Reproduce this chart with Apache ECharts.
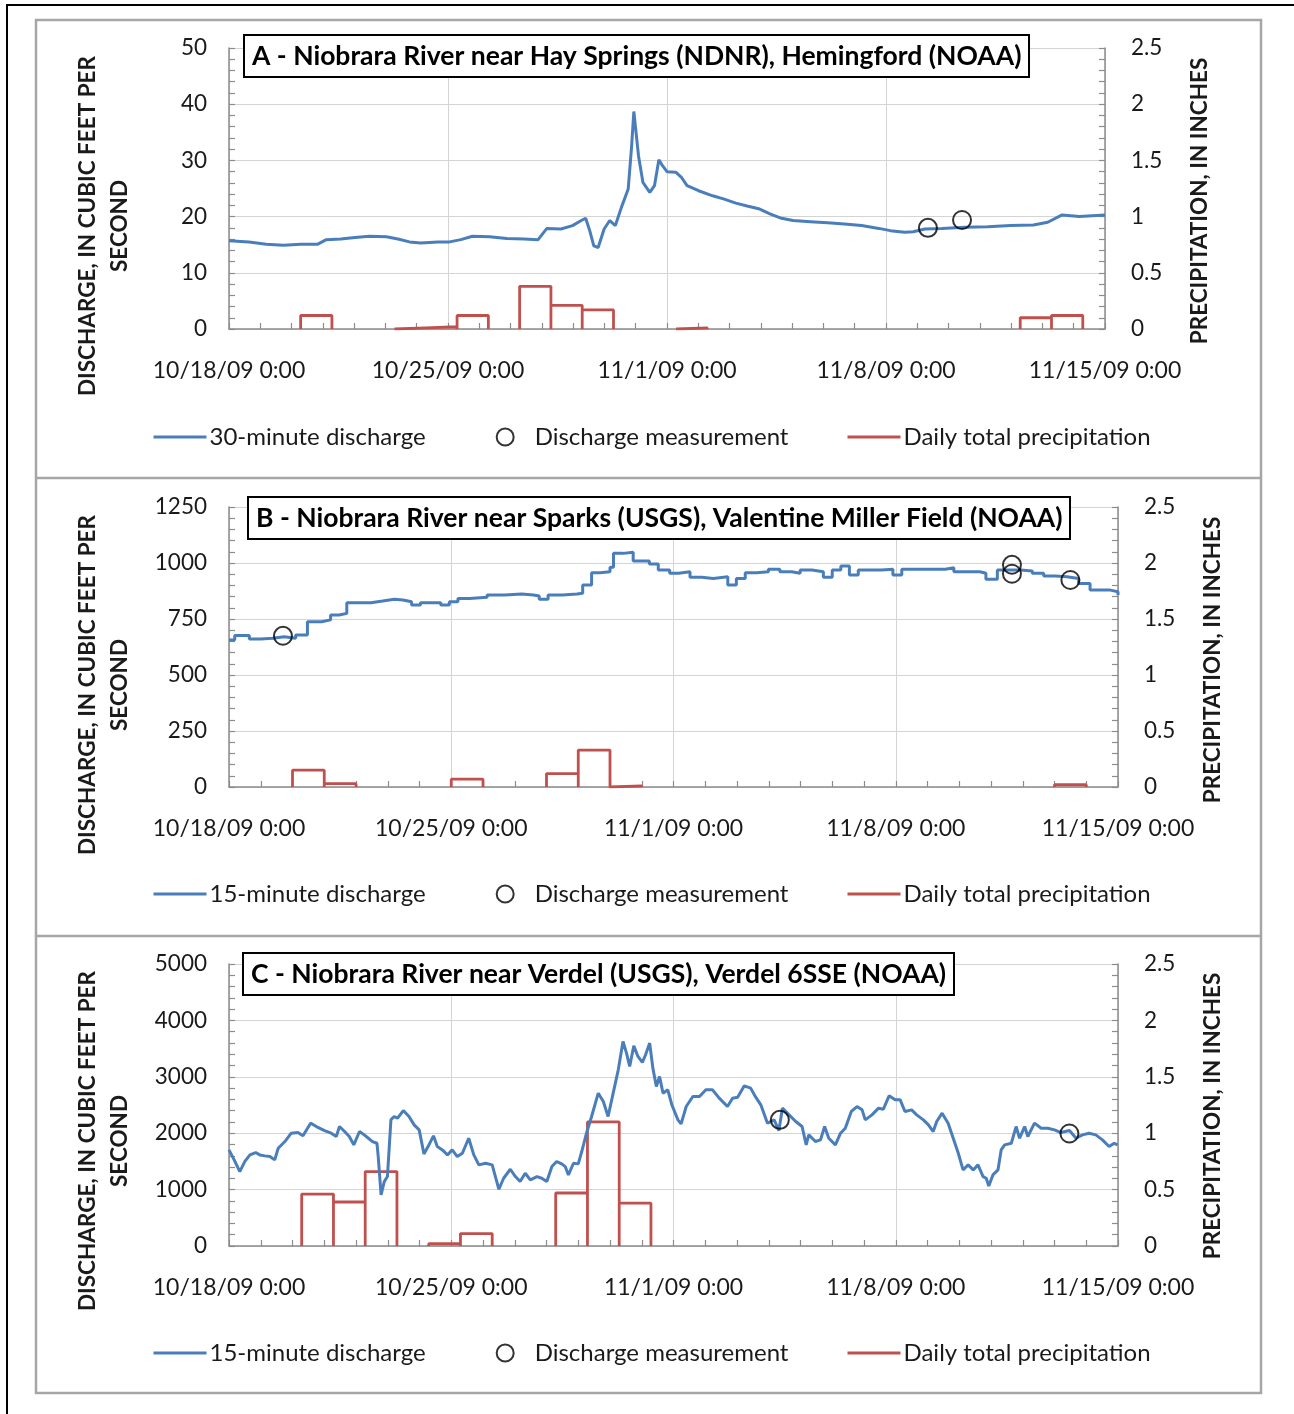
<!DOCTYPE html>
<html><head><meta charset="utf-8">
<script src="https://cdn.jsdelivr.net/npm/echarts@6/dist/echarts.min.js"></script>
<style>html,body{margin:0;padding:0;background:#fff}#c{width:1294px;height:1414px}</style>
</head><body><div id="c"></div>
<script>
// ---------- DATA ----------
const xTickLabels = ['10/18/09 0:00', '10/25/09 0:00', '11/1/09 0:00', '11/8/09 0:00', '11/15/09 0:00'];
const panelTitles = [
  'A - Niobrara River near Hay Springs (NDNR), Hemingford (NOAA)',
  'B - Niobrara River near Sparks (USGS), Valentine Miller Field (NOAA)',
  'C - Niobrara River near Verdel (USGS), Verdel 6SSE (NOAA)'
];
const dischargeNames = ['30-minute discharge', '15-minute discharge', '15-minute discharge'];
const measName = 'Discharge measurement';
const precipName = 'Daily total precipitation';
const leftMax = [50, 1250, 5000];
const leftInterval = [10, 250, 1000];

// discharge: [day since 10/18/09 0:00, cubic feet per second]
const dischargeA = [[0,15.7],[0.64,15.5],[1.19,15.1],[1.74,14.9],[2.29,15.1],[2.84,15.1],[3.11,15.9],[3.57,16.0],[4.03,16.3],[4.48,16.5],[5.03,16.4],[5.40,16.0],[5.77,15.5],[6.13,15.3],[6.68,15.5],[7.05,15.5],[7.41,15.9],[7.78,16.5],[8.33,16.4],[8.88,16.1],[9.43,16.0],[9.88,15.9],[10.16,17.9],[10.61,17.8],[10.98,18.4],[11.26,19.3],[11.40,19.7],[11.53,17.5],[11.66,14.8],[11.80,14.5],[11.99,17.8],[12.17,19.3],[12.35,18.4],[12.54,21.6],[12.76,24.9],[12.87,32.6],[12.94,38.7],[13.09,30.8],[13.23,26.1],[13.45,24.3],[13.60,25.5],[13.74,30.1],[13.85,29.1],[14.00,28.0],[14.28,27.9],[14.46,27.0],[14.64,25.5],[15.01,24.6],[15.46,23.7],[15.83,23.1],[16.20,22.4],[16.56,21.9],[16.93,21.4],[17.29,20.5],[17.66,19.7],[18.03,19.3],[18.58,19.1],[19.13,18.9],[19.67,18.7],[20.22,18.4],[20.77,17.9],[21.14,17.5],[21.60,17.2],[21.87,17.3],[22.24,17.8],[22.79,17.9],[23.52,18.1],[24.25,18.2],[24.98,18.4],[25.71,18.5],[26.17,19.0],[26.63,20.3],[27.18,20.0],[27.73,20.2],[28.0,20.3]];
const dischargeB = [[0,656],[0.18,676],[0.46,676],[0.64,661],[1.00,664],[1.37,671],[1.74,664],[2.10,679],[2.47,738],[2.92,746],[3.20,768],[3.47,775],[3.71,823],[4.11,823],[4.47,830],[4.84,838],[5.21,835],[5.48,827],[5.75,812],[6.03,823],[6.39,823],[6.67,812],[6.94,827],[7.21,842],[7.58,847],[8.13,857],[8.68,862],[9.22,857],[9.59,853],[9.77,838],[10.05,857],[10.50,862],[10.96,865],[11.14,902],[11.42,957],[11.69,961],[12.00,981],[12.11,1043],[12.42,1048],[12.73,1009],[13.24,995],[13.52,969],[13.88,954],[14.16,961],[14.52,936],[14.89,931],[15.25,939],[15.71,902],[15.98,931],[16.26,957],[16.62,961],[16.99,972],[17.35,961],[17.72,954],[17.99,969],[18.36,961],[18.72,936],[19.00,969],[19.27,987],[19.54,946],[19.82,969],[20.18,969],[20.55,972],[20.91,946],[21.19,972],[21.64,972],[22.10,972],[22.56,979],[22.83,961],[23.29,961],[23.65,954],[23.84,927],[24.20,969],[24.57,969],[24.93,964],[25.30,954],[25.66,942],[26.03,939],[26.39,931],[26.76,909],[27.12,879],[27.48,879],[27.76,872],[28.0,857]];
const dischargeC = [[0.00,1704],[0.19,1497],[0.34,1320],[0.50,1500],[0.66,1615],[0.84,1657],[0.97,1615],[1.13,1598],[1.29,1586],[1.44,1527],[1.55,1734],[1.76,1852],[1.96,2000],[2.17,2012],[2.33,1953],[2.57,2178],[2.75,2118],[3.01,2047],[3.22,2000],[3.38,1941],[3.48,2118],[3.64,2030],[3.79,1941],[3.93,1793],[4.11,2030],[4.26,1970],[4.39,1911],[4.52,1852],[4.66,1822],[4.70,1586],[4.79,905],[4.89,1142],[4.99,1231],[5.10,2237],[5.20,2296],[5.31,2266],[5.49,2402],[5.67,2296],[5.83,2148],[5.99,2059],[6.14,1633],[6.27,1763],[6.44,1953],[6.56,1763],[6.72,1704],[6.88,1615],[7.03,1704],[7.19,1586],[7.35,1645],[7.55,1911],[7.71,1615],[7.87,1438],[8.08,1467],[8.29,1438],[8.39,1231],[8.50,1006],[8.65,1201],[8.86,1361],[9.02,1231],[9.17,1142],[9.33,1290],[9.49,1172],[9.70,1231],[9.85,1201],[10.01,1142],[10.17,1408],[10.32,1497],[10.48,1456],[10.59,1408],[10.69,1260],[10.85,1467],[11.00,1456],[11.11,1675],[11.26,2000],[11.42,2296],[11.63,2710],[11.79,2562],[11.94,2296],[12.10,2710],[12.26,3124],[12.41,3627],[12.52,3420],[12.62,3183],[12.75,3550],[12.88,3361],[13.02,3254],[13.12,3391],[13.25,3598],[13.35,3154],[13.46,2828],[13.56,3006],[13.67,2710],[13.82,2769],[13.95,2500],[14.14,2237],[14.24,2166],[14.40,2473],[14.61,2651],[14.82,2651],[15.02,2769],[15.23,2769],[15.44,2621],[15.70,2473],[15.86,2621],[16.02,2639],[16.23,2840],[16.43,2799],[16.59,2639],[16.75,2503],[16.96,2178],[17.17,2237],[17.32,2047],[17.43,2444],[17.64,2325],[17.85,2207],[18.05,2118],[18.18,1793],[18.26,1970],[18.47,1852],[18.63,1882],[18.76,2118],[18.89,1911],[19.10,1793],[19.26,2000],[19.41,2089],[19.60,2385],[19.78,2473],[19.94,2414],[20.04,2237],[20.25,2325],[20.46,2444],[20.61,2426],[20.79,2663],[20.98,2592],[21.14,2592],[21.29,2385],[21.50,2414],[21.66,2325],[21.87,2237],[22.03,2148],[22.18,2030],[22.29,2207],[22.46,2355],[22.65,2178],[22.81,1911],[22.97,1645],[23.12,1349],[23.28,1438],[23.44,1349],[23.59,1438],[23.75,1231],[23.85,1201],[23.93,1065],[24.06,1260],[24.22,1349],[24.32,1704],[24.43,1793],[24.64,1822],[24.79,2118],[24.90,1911],[25.06,2118],[25.16,1941],[25.37,2178],[25.58,2089],[25.79,2089],[26.00,2059],[26.20,2012],[26.47,2047],[26.68,1911],[26.88,1970],[27.09,2000],[27.30,1970],[27.51,1882],[27.72,1763],[27.88,1822],[27.98,1793]];

// discharge measurements: [day, cfs]
const measA = [[22.34,18.0],[23.43,19.4]];
const measB = [[1.70,675],[24.66,992],[24.66,952],[26.50,924]];
const measC = [[17.35,2237],[26.47,1995]];

// daily total precipitation: [observation period start day, inches] (each period lasts one day)
const precipA = [[2.29,0.12],[5.29,0.01],[6.29,0.02],[7.29,0.12],[9.29,0.38],[10.29,0.21],[11.29,0.17],[14.29,0.01],[25.29,0.10],[26.29,0.12]];
const precipB = [[2,0.15],[3,0.03],[7,0.07],[10,0.12],[11,0.33],[12,0.01],[26,0.02]];
const precipC = [[2.29,0.46],[3.29,0.39],[4.29,0.66],[6.29,0.02],[7.29,0.11],[10.29,0.47],[11.29,1.10],[12.29,0.38]];

// ---------- CHART ----------
const FONT = 'Lato';
const BLUE = '#4a7ebb', RED = '#c0504d', AXIS = '#8c8c8c', GRID = '#d4d4d4', TXT = '#1a1a1a';
const grids = [
  {left: 229, top: 48, width: 876, height: 281},
  {left: 229, top: 507, width: 889, height: 280},
  {left: 229, top: 964, width: 889, height: 282}
];
const titlePos = [{left: 244, top: 35}, {left: 248, top: 497}, {left: 243, top: 953}];
const legendTop = [425, 882, 1341];
const leftTitlePos = [[104, 226], [104, 685], [104, 1141]];
const rightTitlePos = [[1200, 201], [1213, 660], [1213, 1116]];

function precipPath(arr) {
  const out = [];
  arr.forEach((p, i) => {
    const s = p[0], v = p[1];
    out.push([s, 0], [s, v], [s + 1, v], [s + 1, 0]);
    const next = arr[i + 1];
    if (next && Math.abs(next[0] - (s + 1)) > 0.01) out.push([s + 1, '-']);
  });
  return out;
}

const discharges = [dischargeA, dischargeB, dischargeC];
const meas = [measA, measB, measC];
const precips = [precipA, precipB, precipC];

const tickCommon = (split) => ({
  axisLine: {show: true, lineStyle: {color: AXIS, width: 1.5}},
  axisTick: {show: true, inside: true, length: 6, lineStyle: {color: AXIS, width: 1.2}},
  minorTick: {show: true, splitNumber: split, length: 6, lineStyle: {color: AXIS, width: 1.2}},
  minorSplitLine: {show: false}
});

const legendBase = {
  padding: 0, itemWidth: 53, itemHeight: 17,
  textStyle: {fontFamily: FONT, fontSize: 24, color: TXT, padding: [0, 0, 0, -2]},
  lineStyle: {width: 3}, selectedMode: false
};

const option = {
  animation: false,
  backgroundColor: '#fff',
  textStyle: {fontFamily: FONT},
  grid: grids,
  title: panelTitles.map((t, i) => ({
    text: t, left: titlePos[i].left, top: titlePos[i].top, padding: [6, 8],
    borderColor: '#000', borderWidth: 2, backgroundColor: '#fff', z: 10,
    textStyle: {fontFamily: FONT, fontWeight: 'bold', fontSize: 26.5, color: '#000', lineHeight: 30}
  })),
  legend: [].concat(...[0, 1, 2].map(i => [
    Object.assign({}, legendBase, {
      left: 152, top: legendTop[i], itemGap: 70,
      data: [
        {name: dischargeNames[i], itemStyle: {opacity: 0}},
        {name: measName, icon: 'circle', itemStyle: {color: '#fff', borderColor: '#000', borderWidth: 2}}
      ]
    }),
    Object.assign({}, legendBase, {
      left: 846, top: legendTop[i],
      data: [{name: precipName, itemStyle: {opacity: 0}}]
    })
  ])),
  xAxis: [0, 1, 2].map(i => Object.assign({
    type: 'value', gridIndex: i, min: 0, max: 28, interval: 7,
    axisLabel: {formatter: v => xTickLabels[Math.round(v / 7)], margin: 30, fontSize: 23, color: TXT, fontFamily: FONT},
    splitLine: {show: true, lineStyle: {color: GRID, width: 1}}
  }, tickCommon(7))),
  yAxis: [].concat(...[0, 1, 2].map(i => [
    Object.assign({
      type: 'value', gridIndex: i, position: 'left', min: 0, max: leftMax[i], interval: leftInterval[i],
      axisLabel: {margin: 22, fontSize: 22.5, color: TXT, fontFamily: FONT, formatter: v => String(v)},
      splitLine: {show: true, lineStyle: {color: GRID, width: 1}}
    }, tickCommon(5)),
    Object.assign({
      type: 'value', gridIndex: i, position: 'right', min: 0, max: 2.5, interval: 0.5,
      axisLabel: {margin: 26, fontSize: 22.5, color: TXT, fontFamily: FONT, formatter: v => String(v)},
      splitLine: {show: false}
    }, tickCommon(5))
  ])),
  series: [].concat(...[0, 1, 2].map(i => [
    {
      type: 'line', name: precipName, xAxisIndex: i, yAxisIndex: 2 * i + 1,
      data: precipPath(precips[i]), symbol: 'none', connectNulls: false,
      lineStyle: {color: RED, width: 2.8}, itemStyle: {color: RED}, z: 2
    },
    {
      type: 'line', name: dischargeNames[i], xAxisIndex: i, yAxisIndex: 2 * i,
      data: discharges[i], symbol: 'none', step: i === 1 ? 'end' : false,
      lineStyle: {color: BLUE, width: 3}, itemStyle: {color: BLUE}, z: 3
    },
    {
      type: 'scatter', name: measName, xAxisIndex: i, yAxisIndex: 2 * i,
      data: meas[i], symbol: 'circle', symbolSize: 18,
      itemStyle: {color: 'rgba(255,255,255,0)', borderColor: '#000', borderWidth: 2}, z: 4
    }
  ])),
  graphic: [
    {type: 'rect', shape: {x: 7, y: 5, width: 1300, height: 1420}, style: {fill: 'none', stroke: '#000', lineWidth: 2}, silent: true},
    {type: 'rect', shape: {x: 36, y: 20, width: 1225, height: 1373}, style: {fill: 'none', stroke: '#a6a6a6', lineWidth: 2.5}, silent: true},
    {type: 'line', shape: {x1: 36, y1: 478, x2: 1261, y2: 478}, style: {stroke: '#a6a6a6', lineWidth: 2.5}, silent: true},
    {type: 'line', shape: {x1: 36, y1: 936, x2: 1261, y2: 936}, style: {stroke: '#a6a6a6', lineWidth: 2.5}, silent: true}
  ].concat(
    leftTitlePos.map(p => ({
      type: 'text', x: p[0], y: p[1], rotation: Math.PI / 2, silent: true,
      style: {text: 'DISCHARGE, IN CUBIC FEET PER\nSECOND', font: 'bold 22.5px ' + FONT, fill: TXT,
        textAlign: 'center', textVerticalAlign: 'middle', lineHeight: 32}
    })),
    rightTitlePos.map(p => ({
      type: 'text', x: p[0], y: p[1], rotation: Math.PI / 2, silent: true,
      style: {text: 'PRECIPITATION, IN INCHES', font: 'bold 22.5px ' + FONT, fill: TXT,
        textAlign: 'center', textVerticalAlign: 'middle'}
    }))
  )
};

const chart = echarts.init(document.getElementById('c'), null, {renderer: 'canvas'});
chart.setOption(option);
</script>
</body></html>
